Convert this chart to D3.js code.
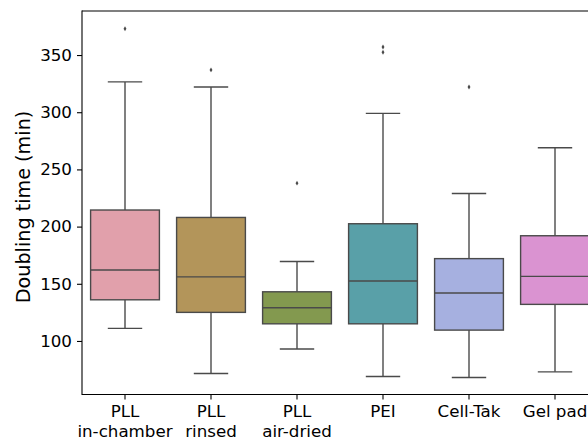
<!DOCTYPE html>
<html>
<head>
<meta charset="utf-8">
<script src="https://cdn.jsdelivr.net/npm/d3@7"></script>
<style>
  body { margin: 0; background: #fff; }
  svg { display: block; font-family: "DejaVu Sans", sans-serif; }
</style>
</head>
<body>
<div id="chart"></div>
<script>
// substrate categories (second line after \n)
const categories = ["PLL\nin-chamber", "PLL\nrinsed", "PLL\nair-dried", "PEI", "Cell-Tak", "Gel pad"];
const boxColors = ["#e1a0ab", "#b3955a", "#83994f", "#59a0a8", "#a6b0e0", "#da93d1"];

// box statistics (min)
const whiskerLow  = [111, 71.5, 93, 69, 68, 73];
const q1          = [136, 125, 115, 115, 109.5, 132];
const median      = [162, 156, 129, 152.5, 142, 156.5];
const q3          = [214.5, 208, 143, 202.5, 172, 192];
const whiskerHigh = [326.5, 322, 169.5, 299, 229, 269];
const outliers    = [[373], [337], [238], [357, 352.5], [322], []];

const yTicks = [100, 150, 200, 250, 300, 350];

const W = 588, H = 443;
const margin = { top: 11, left: 82 };
const plotBottom = 394.5;
const plotRight = 598;   // axes run past the right edge of the picture

const svg = d3.select("#chart").append("svg")
    .attr("width", W)
    .attr("height", H);

const xScale = d3.scaleBand().domain(categories).range([margin.left, plotRight]).padding(0);
const yScale = d3.scaleLinear().domain([53.2, 388.5]).range([plotBottom, margin.top]);

const lineColor = "#4a4a4a";
const lw = 1.4;
const boxW = xScale.bandwidth() * 0.8;
const capW = boxW / 2;

const boxes = svg.append("g").attr("class", "boxes");

categories.forEach((c, i) => {
  const cx = xScale(c) + xScale.bandwidth() / 2;
  const g = boxes.append("g");

  // whiskers
  g.append("line")
      .attr("x1", cx).attr("x2", cx)
      .attr("y1", yScale(q3[i])).attr("y2", yScale(whiskerHigh[i]))
      .attr("stroke", lineColor).attr("stroke-width", lw);
  g.append("line")
      .attr("x1", cx).attr("x2", cx)
      .attr("y1", yScale(q1[i])).attr("y2", yScale(whiskerLow[i]))
      .attr("stroke", lineColor).attr("stroke-width", lw);
  // caps
  [whiskerHigh[i], whiskerLow[i]].forEach(v => {
    g.append("line")
        .attr("x1", cx - capW / 2).attr("x2", cx + capW / 2)
        .attr("y1", yScale(v)).attr("y2", yScale(v))
        .attr("stroke", lineColor).attr("stroke-width", lw);
  });
  // box
  g.append("rect")
      .attr("x", cx - boxW / 2)
      .attr("y", yScale(q3[i]))
      .attr("width", boxW)
      .attr("height", yScale(q1[i]) - yScale(q3[i]))
      .attr("fill", boxColors[i])
      .attr("stroke", lineColor).attr("stroke-width", lw);
  // median
  g.append("line")
      .attr("x1", cx - boxW / 2).attr("x2", cx + boxW / 2)
      .attr("y1", yScale(median[i])).attr("y2", yScale(median[i]))
      .attr("stroke", lineColor).attr("stroke-width", lw);
  // fliers
  g.selectAll("path.flier")
      .data(outliers[i])
      .join("path")
      .attr("class", "flier")
      .attr("transform", d => `translate(${cx},${yScale(d)})`)
      .attr("d", d3.symbol().type(d3.symbolDiamond).size(7))
      .attr("fill", lineColor);
});

// axes
const fontSize = 16.7;

const yAxis = d3.axisLeft(yScale).tickValues(yTicks).tickSize(5).tickPadding(5).tickSizeOuter(0);
const gy = svg.append("g")
    .attr("transform", `translate(${margin.left},0)`)
    .call(yAxis);
gy.select(".domain").remove();
gy.selectAll("line").attr("stroke", "#000").attr("stroke-width", 1.1);
gy.selectAll("text").attr("font-size", fontSize).attr("fill", "#000")
    .attr("font-family", "DejaVu Sans");

const xAxis = d3.axisBottom(xScale).tickSize(5).tickPadding(5).tickSizeOuter(0);
const gx = svg.append("g")
    .attr("transform", `translate(0,${plotBottom})`)
    .call(xAxis);
gx.select(".domain").remove();
gx.selectAll("line").attr("stroke", "#000").attr("stroke-width", 1.1);
gx.selectAll("text").each(function(d) {
  const t = d3.select(this);
  const lines = d.split("\n");
  t.text(null)
      .attr("font-size", fontSize).attr("fill", "#000")
      .attr("font-family", "DejaVu Sans")
      .attr("dy", null).attr("y", 22.5);
  lines.forEach((s, k) => {
    t.append("tspan").attr("x", 0).attr("dy", k === 0 ? 0 : 19.5).text(s);
  });
});

// spines
const spines = svg.append("g").attr("stroke", "#000").attr("stroke-width", 1.1).attr("fill", "none");
spines.append("line").attr("x1", margin.left).attr("x2", W).attr("y1", margin.top).attr("y2", margin.top);
spines.append("line").attr("x1", margin.left).attr("x2", W).attr("y1", plotBottom).attr("y2", plotBottom);
spines.append("line").attr("x1", margin.left).attr("x2", margin.left).attr("y1", margin.top - 0.55).attr("y2", plotBottom + 0.55);

// y label
svg.append("text")
    .attr("transform", `translate(29.5,207) rotate(-90)`)
    .attr("text-anchor", "middle")
    .attr("font-size", 19.2)
    .attr("font-family", "DejaVu Sans")
    .attr("fill", "#000")
    .text("Doubling time (min)");
</script>
</body>
</html>
